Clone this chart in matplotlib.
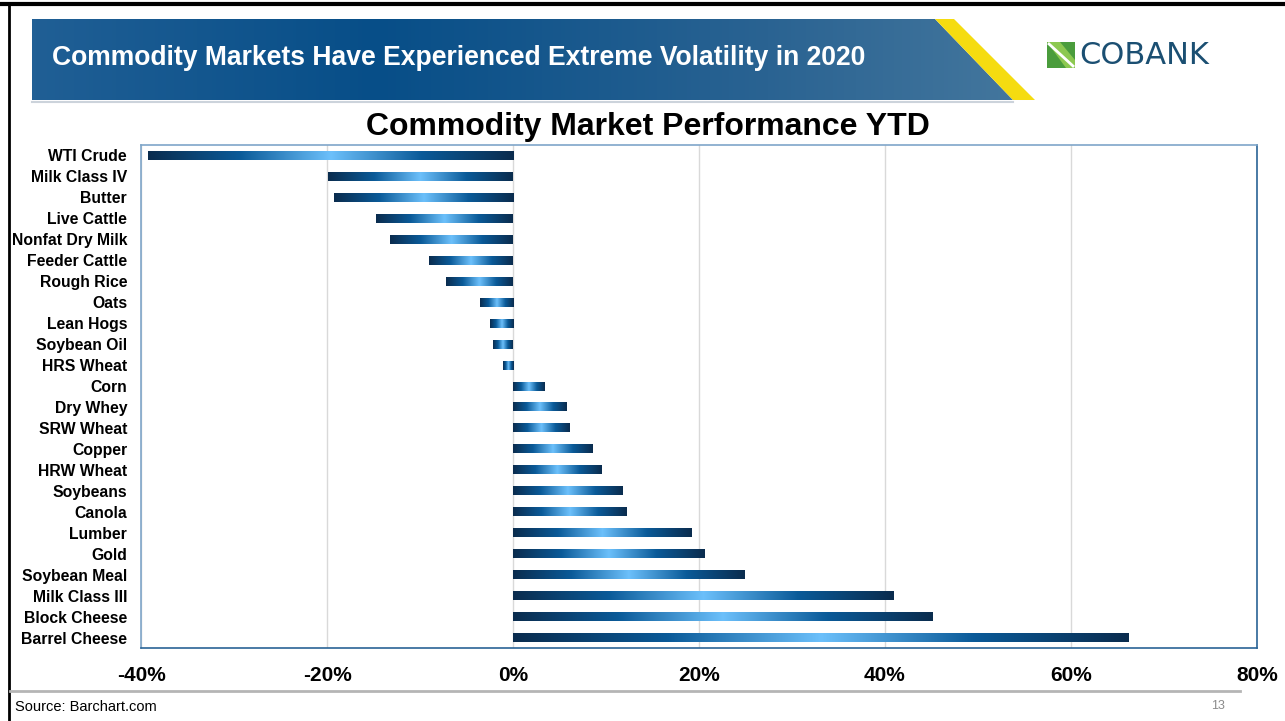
import numpy as np
import matplotlib
matplotlib.use("Agg")
import matplotlib.pyplot as plt
from matplotlib.colors import LinearSegmentedColormap
from matplotlib.patches import Polygon
from matplotlib.ticker import FuncFormatter

plt.rcParams['font.family'] = ['Liberation Sans', 'DejaVu Sans']

commodities = ['WTI Crude', 'Milk Class IV', 'Butter', 'Live Cattle', 'Nonfat Dry Milk',
               'Feeder Cattle', 'Rough Rice', 'Oats', 'Lean Hogs', 'Soybean Oil',
               'HRS Wheat', 'Corn', 'Dry Whey', 'SRW Wheat', 'Copper', 'HRW Wheat',
               'Soybeans', 'Canola', 'Lumber', 'Gold', 'Soybean Meal', 'Milk Class III',
               'Block Cheese', 'Barrel Cheese']
ytd_pct = [-39.3, -19.85, -19.3, -14.7, -13.2, -9.0, -7.2, -3.6, -2.5, -2.1,
           -1.1, 3.4, 5.8, 6.1, 8.5, 9.5, 11.8, 12.2, 19.2, 20.6, 24.9, 40.9,
           45.1, 66.2]
x_ticks = [-40, -20, 0, 20, 40, 60, 80]

W, H = 1285, 721
fig = plt.figure(figsize=(W / 100, H / 100), dpi=100)

# slide background layer in pixel coordinates
bg = fig.add_axes([0, 0, 1, 1])
bg.set_xlim(0, W)
bg.set_ylim(H, 0)
bg.axis('off')

# slide border
bg.plot([0, W], [3.5, 3.5], color='black', lw=3, solid_capstyle='butt')
bg.plot([9, 9], [3, H], color='black', lw=2, solid_capstyle='butt')

# header banner with gradient
banner_cmap = LinearSegmentedColormap.from_list(
    'banner', [(0, '#205f95'), (0.35, '#074e88'), (0.75, '#2a6392'), (1, '#43769d')])
banner = Polygon([(32, 19), (935, 19), (1013, 100), (32, 100)], closed=True,
                 facecolor='none', edgecolor='none')
bg.add_patch(banner)
grad = np.linspace(0, 1, 256).reshape(1, -1)
im = bg.imshow(grad, cmap=banner_cmap, extent=[32, 1013, 100, 19], aspect='auto')
im.set_clip_path(banner)
bg.add_patch(Polygon([(935, 19), (954, 19), (1035, 100), (1013, 100)], closed=True,
                     facecolor='#f5dc10', edgecolor='none'))
bg.plot([32, 1013], [101.5, 101.5], color='#9aa9b8', lw=1.5, alpha=0.5)
bg.text(52, 58, 'Commodity Markets Have Experienced Extreme Volatility in 2020',
        color='white', fontsize=19.1, fontweight='bold', va='center', ha='left')

# CoBank logo
bg.add_patch(Polygon([(1047, 42), (1075, 42), (1075, 68), (1047, 68)], closed=True,
                     facecolor='#4a9c3c', edgecolor='none'))
bg.add_patch(Polygon([(1047, 42), (1060, 42), (1075, 60), (1075, 68), (1066, 68)],
                     closed=True, facecolor='#8cc850', edgecolor='none'))
bg.plot([1049, 1073], [44, 66], color='white', lw=2)
bg.text(1079, 55, 'COBANK', color='#1b4f72', fontsize=22, va='center', ha='left',
        family=['DejaVu Sans'])

# chart title
bg.text(648, 127, 'Commodity Market Performance YTD', color='black', fontsize=23,
        fontweight='bold', ha='center', va='center')

# footer
bg.plot([10, 1240], [691, 691], color='#b5b5b5', lw=2)
bg.text(15, 707, 'Source: Barchart.com', fontsize=10.5, ha='left', va='center', color='black')
bg.text(1225, 706, '13', fontsize=9, ha='right', va='center', color='#8a8a8a')

# bar chart
ax = fig.add_axes([141 / W, 1 - 648 / H, (1257 - 141) / W, (648 - 145) / H])
bar_cmap = LinearSegmentedColormap.from_list(
    'bar', [(0, '#0a2c4e'), (0.25, '#0a5a98'), (0.5, '#6cc0fb'), (0.75, '#0a5a98'), (1, '#0a2c4e')])
h = 0.43
ypos = np.arange(len(commodities))
bars = ax.barh(ypos, ytd_pct, height=h, color='none', edgecolor='none', zorder=3)
for y, v, b in zip(ypos, ytd_pct, bars):
    lo, hi = min(0, v), max(0, v)
    gi = ax.imshow(grad, cmap=bar_cmap, extent=[lo, hi, y + h / 2, y - h / 2],
                   aspect='auto', zorder=3, interpolation='bilinear')
    gi.set_clip_path(b)

ax.set_xlim(-40, 80)
ax.set_ylim(len(commodities) - 0.5, -0.5)
ax.set_xticks(x_ticks)
ax.xaxis.set_major_formatter(FuncFormatter(lambda v, p: f'{v:.0f}%'))
ax.set_yticks(ypos)
ax.set_yticklabels(commodities)
ax.tick_params(axis='y', length=0, pad=10, labelsize=11.3)
ax.tick_params(axis='x', length=0, pad=13, labelsize=15)
for lab in ax.get_xticklabels() + ax.get_yticklabels():
    lab.set_fontweight('bold')
ax.grid(axis='x', color='#d9d9d9', lw=1, zorder=0)
ax.set_axisbelow(True)
for side in ['top', 'left']:
    ax.spines[side].set_color('#7fa6c9')
for side in ['bottom', 'right']:
    ax.spines[side].set_color('#2a6496')
for s in ax.spines.values():
    s.set_linewidth(1.2)

fig.savefig('out.png', dpi=100)
